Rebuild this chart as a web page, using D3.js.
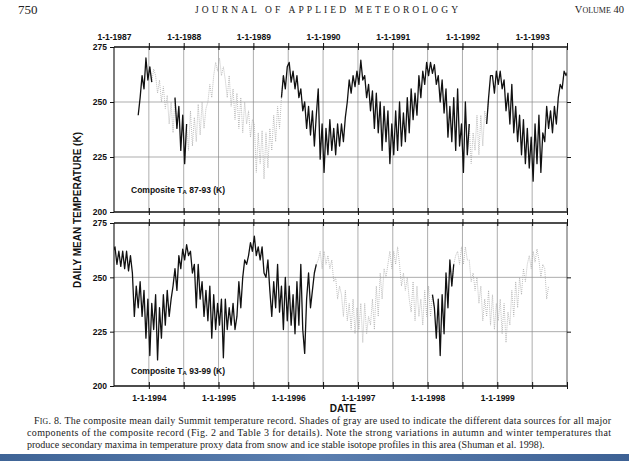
<!DOCTYPE html>
<html><head><meta charset="utf-8">
<script src="https://cdn.jsdelivr.net/npm/d3@7"></script>
<style>body{margin:0;background:#fff}svg{display:block}</style>
</head><body>
<svg id="c" width="629" height="461"></svg>
<script>
// ---------- DATA (~10-day readings, 3 per month) ----------
const startYear = 1987 + (4 + 1/6) / 12;   // first reading, early May 1987
const stepYears = 1 / 36;
const t1987 = [244,252,262, 256,270,260, 266,259,265, 262,254,260, 250,257,247, 253,240,250, 236,252,238, 248,228,244];
const t1988 = [222,240,228, 246,230,243, 232,249,235, 250,238,247, 250,258,252, 262,268,264, 270,262,266, 260,252,262, 248,256,242, 254,238,252, 236,250,240, 246,234,242];
const t1989 = [240,218,236, 222,237,215, 236,220,238, 228,244,232, 248,238,252, 262,256,266, 268,259,264, 256,262,252, 256,246,250, 238,248,235, 246,230,244, 256,224,240];
const t1990 = [218,238,226, 242,228,238, 226,240,230, 240,232,243, 250,260,254, 262,257,264, 258,269,260, 262,252,258, 246,255,238, 254,236,250, 228,248,232, 246,222,240];
const t1991 = [226,246,228, 250,230,245, 232,252,236, 256,242,254, 244,262,252, 264,258,268, 262,268,263, 267,258,262, 250,260,245, 256,234,248, 232,252,228, 256,230,240];
const t1992 = [218,250,226, 240,222,236, 228,244,226, 244,230,246, 240,252,262, 262,254,264, 258,264,256, 260,246,254, 240,258,236, 248,232,244, 226,242,222, 238,220,234];
const t1993 = [214,240,222, 244,218,236, 232,248,238, 246,236,248, 240,252,258, 256,264,262, 264,256,262, 255,262,254, 262,253,260, 252,232,246, 236,248,232, 244,222,240];
const t1994 = [214,238,226, 242,212,236, 222,242,228, 244,232,240, 246,254,244, 260,254,263, 258,265,260, 262,252,256, 236,256,240, 248,232,244, 230,246,222, 242,226,238];
const t1995 = [228,240,213, 240,226,236, 228,238,226, 232,248,236, 250,258,256, 260,266,262, 269,260,264, 258,264,252, 250,258,244, 232,248,236, 256,234,246, 226,250,230];
const t1996 = [246,228,242, 224,248,228, 256,226,215, 240,252,236, 244,252,256, 258,262,254, 262,256,260, 254,258,248, 250,240,246, 242,232,244, 230,238,226, 240,224,236];
const t1997 = [226,238,220, 238,224,232, 228,240,226, 246,232,252, 240,254,250, 256,262,254, 262,256,264, 256,246,252, 244,250,240, 234,248,230, 246,232,240, 228,244,232];
const t1998 = [246,232,242, 236,222,240, 214,242,224, 252,236,258, 246,256,260, 262,256,264, 256,264,258, 258,248,252, 244,250,238, 246,230,240, 232,244,228, 242,226,238];
const t1999 = [230,240,224, 238,220,234, 228,244,232, 248,236,250, 242,254,248, 256,260,254, 262,257,263, 258,250,256, 254,240,246];

// data sources (dark = black trace, light = pale dotted trace)
const sourceFrom = [1987.33, 1987.53, 1987.90, 1988.03, 1989.41, 1992.09, 1992.37, 1996.38, 1998.09, 1998.37];
const sourceTo   = [1987.53, 1987.90, 1988.03, 1989.41, 1992.09, 1992.37, 1996.38, 1998.09, 1998.37, 1999.80];
const sourceKind = ["dark","light","dark","light","dark","light","dark","light","dark","light"];

const topYears = [1987,1988,1989,1990,1991,1992,1993];
const topLabels = ["1-1-1987","1-1-1988","1-1-1989","1-1-1990","1-1-1991","1-1-1992","1-1-1993"];
const botYears = [1994,1995,1996,1997,1998,1999];
const botLabels = ["1-1-1994","1-1-1995","1-1-1996","1-1-1997","1-1-1998","1-1-1999"];
const yTicks = [200,225,250,275];
const yGrid = [225,250];

// ---------- DRAW ----------
const temps = [].concat(t1987,t1988,t1989,t1990,t1991,t1992,t1993,t1994,t1995,t1996,t1997,t1998,t1999);
const pts = temps.map((v,i)=>({t: startYear + i*stepYears, v}));
const svg = d3.select("#c");
svg.append("rect").attr("width",629).attr("height",461).attr("fill","#fff");
const FONT = "'Liberation Sans', Arial, sans-serif";
const SERIF = "'Liberation Serif', 'Times New Roman', serif";

const panels = [
  {dom:[1987,1993.5], top:47, bot:212, years:topYears, labels:topLabels, labelSide:"top", tag:" 87-93 (K)", tagY:193},
  {dom:[1993.5,2000], top:223, bot:386, years:botYears, labels:botLabels, labelSide:"bottom", tag:" 93-99 (K)", tagY:374}
];
const L = 114, R = 567;

panels.forEach((p,pi)=>{
  const x = d3.scaleLinear().domain(p.dom).range([L,R]);
  const y = d3.scaleLinear().domain([200,275]).range([p.bot,p.top]);
  const g = svg.append("g");
  const half = d3.range(Math.ceil(p.dom[0]*2)/2, p.dom[1]+0.001, 0.5).filter(d=>d>p.dom[0]+0.01 && d<p.dom[1]-0.01);

  // grid
  g.selectAll(".vg").data(half).join("line")
    .attr("x1",d=>x(d)).attr("x2",d=>x(d)).attr("y1",p.top).attr("y2",p.bot)
    .attr("stroke","#8a8a8a").attr("stroke-width",0.7);
  g.selectAll(".hg").data(yGrid).join("line")
    .attr("x1",L).attr("x2",R).attr("y1",d=>y(d)).attr("y2",d=>y(d))
    .attr("stroke","#8a8a8a").attr("stroke-width",0.7);

  // data
  const clipId = "clip"+pi;
  svg.append("clipPath").attr("id",clipId).append("rect")
    .attr("x",L).attr("y",p.top).attr("width",R-L).attr("height",p.bot-p.top);
  const line = d3.line().x(d=>x(d.t)).y(d=>y(d.v));
  const dg = g.append("g").attr("clip-path",`url(#${clipId})`);
  ["light","dark"].forEach(kind=>{
    sourceKind.forEach((k,si)=>{
      if(k!==kind) return;
      let a = pts.findIndex(d=>d.t>=sourceFrom[si]);
      let b = -1; pts.forEach((d,i)=>{ if(d.t<=sourceTo[si]) b=i; });
      if(a<0||b<a) return;
      const seg = pts.slice(Math.max(0,a-1), Math.min(pts.length,b+2));
      dg.append("path").attr("d",line(seg)).attr("fill","none")
        .attr("stroke", kind==="dark" ? "#111" : "#a6a6a6")
        .attr("stroke-width", kind==="dark" ? 1.3 : 0.8)
        .attr("stroke-dasharray", kind==="dark" ? null : "0.9,1.1")
        .attr("stroke-linejoin","round");
    });
  });

  // frame
  g.append("line").attr("x1",L).attr("x2",R).attr("y1",p.top).attr("y2",p.top).attr("stroke","#111").attr("stroke-width",1.3);
  g.append("line").attr("x1",L).attr("x2",R).attr("y1",p.bot).attr("y2",p.bot).attr("stroke","#111").attr("stroke-width",1.3);
  g.append("line").attr("x1",L).attr("x2",L).attr("y1",p.top).attr("y2",p.bot).attr("stroke","#111").attr("stroke-width",1.1);
  g.append("line").attr("x1",R).attr("x2",R).attr("y1",p.top).attr("y2",p.bot).attr("stroke","#555").attr("stroke-width",1);

  // x ticks (crossing both horizontal borders)
  const tickVals = half.concat([p.dom[1]]);
  [p.top,p.bot].forEach(yy=>{
    g.append("g").attr("transform",`translate(0,${yy})`)
      .call(d3.axisTop(x).tickValues(tickVals).tickSize(4).tickFormat(""))
      .call(s=>{s.select(".domain").remove(); s.selectAll("line").attr("stroke","#111");});
    g.append("g").attr("transform",`translate(0,${yy})`)
      .call(d3.axisBottom(x).tickValues(tickVals).tickSize(3).tickFormat(""))
      .call(s=>{s.select(".domain").remove(); s.selectAll("line").attr("stroke","#111");});
  });
  // x labels
  const lab = p.labelSide==="top"
    ? d3.axisTop(x).tickValues(p.years).tickSize(0).tickPadding(7).tickFormat((d,i)=>p.labels[i])
    : d3.axisBottom(x).tickValues(p.years).tickSize(0).tickPadding(9).tickFormat((d,i)=>p.labels[i]);
  g.append("g").attr("transform",`translate(0,${p.labelSide==="top"?p.top:p.bot})`).call(lab)
    .call(s=>{s.select(".domain").remove(); s.selectAll("text").attr("font-family",FONT).attr("font-weight","bold").attr("font-size",8.5).attr("fill","#111");});

  // y axis
  g.append("g").attr("transform",`translate(${L},0)`)
    .call(d3.axisLeft(y).tickValues(yTicks).tickSize(4).tickPadding(3))
    .call(s=>{s.select(".domain").remove(); s.selectAll("line").attr("stroke","#111");
      s.selectAll("text").attr("font-family",FONT).attr("font-weight","bold").attr("font-size",8.5).attr("fill","#111");});
  g.append("g").attr("transform",`translate(${R},0)`)
    .call(d3.axisRight(y).tickValues(yGrid).tickSize(4).tickFormat(""))
    .call(s=>{s.select(".domain").remove(); s.selectAll("line").attr("stroke","#111");});

  // panel tag
  const tg = g.append("text").attr("x",131).attr("y",p.tagY)
    .attr("font-family",FONT).attr("font-weight","bold").attr("font-size",8.5).attr("fill","#111");
  tg.append("tspan").text("Composite T");
  tg.append("tspan").attr("font-size",6).attr("dy",0.5).text("A");
  tg.append("tspan").attr("dy",-0.5).text(p.tag);
});

// axis titles
svg.append("text").attr("transform","translate(81,210) rotate(-90)").attr("text-anchor","middle")
  .attr("font-family",FONT).attr("font-weight","bold").attr("font-size",10).attr("fill","#111")
  .text("DAILY MEAN TEMPERATURE (K)");
svg.append("text").attr("x",343).attr("y",412).attr("text-anchor","middle")
  .attr("font-family",FONT).attr("font-weight","bold").attr("font-size",10).attr("fill","#111").text("DATE");

// header
svg.append("text").attr("x",18).attr("y",14).attr("font-family",SERIF).attr("font-size",13).attr("fill","#222").text("750");
svg.append("text").attr("x",195).attr("y",13).attr("font-family",SERIF).attr("font-size",9.5).attr("fill","#222")
  .attr("textLength",263).attr("lengthAdjust","spacing").text("JOURNAL OF APPLIED METEOROLOGY");
const vol = svg.append("text").attr("x",624).attr("y",13).attr("text-anchor","end").attr("font-family",SERIF).attr("font-size",10.5).attr("fill","#222");
vol.append("tspan").text("V");
vol.append("tspan").attr("font-size",8).text("OLUME");
vol.append("tspan").text(" 40");

// caption
const cap = [
  {x:34, y:424, w:577, parts:[["F",10],["IG",7.8],[". 8. The composite mean daily Summit temperature record. Shades of gray are used to indicate the different data sources for all major",10]]},
  {x:27, y:436, w:584, parts:[["components of the composite record (Fig. 2 and Table 3 for details). Note the strong variations in autumn and winter temperatures that",10]]},
  {x:27, y:448, w:0, parts:[["produce secondary maxima in temperature proxy data from snow and ice stable isotope profiles in this area (Shuman et al. 1998).",10]]}
];
cap.forEach(c=>{
  const t = svg.append("text").attr("x",c.x).attr("y",c.y).attr("font-family",SERIF).attr("fill","#222");
  if(c.w) t.attr("textLength",c.w).attr("lengthAdjust","spacing");
  c.parts.forEach(pp=>t.append("tspan").attr("font-size",pp[1]).text(pp[0]));
});

// bottom band of the page image
const grad = svg.append("defs").append("linearGradient").attr("id","band").attr("x1","0").attr("x2","1");
grad.append("stop").attr("offset","0").attr("stop-color","#3f6496");
grad.append("stop").attr("offset","0.5").attr("stop-color","#5b7fb0");
grad.append("stop").attr("offset","1").attr("stop-color","#3d6194");
svg.append("rect").attr("x",0).attr("y",454).attr("width",629).attr("height",7).attr("fill","url(#band)");
</script>
</body></html>
